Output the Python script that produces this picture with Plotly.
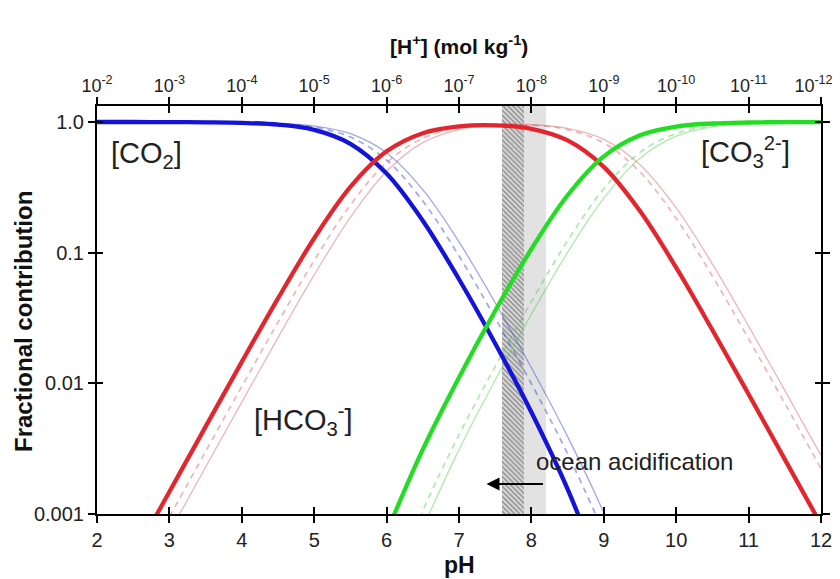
import math
import plotly.graph_objects as go

# ---------------- data ----------------
pH = [2.0, 2.5, 3.0, 3.5, 4.0, 4.5, 5.0, 5.5, 6.0, 6.5, 7.0,
      7.5, 8.0, 8.5, 9.0, 9.5, 10.0, 10.5, 11.0, 11.5, 12.0]

# bold curves
co2_bold = [1.0, 1.0, 0.9985, 0.9953, 0.9854, 0.9553, 0.8711, 0.6812, 0.4031, 0.1756, 0.0626,
            0.0202, 0.0060, 0.00155, 0.00031, None, None, None, None, None, None]
hco3_bold = [None, 0.00047, 0.00148, 0.00466, 0.0146, 0.0447, 0.1289, 0.3186, 0.5962, 0.8213, 0.9262,
             0.9439, 0.8873, 0.7234, 0.4539, 0.2082, 0.0768, 0.0256, 0.00825, 0.00262, 0.00083]
co3_bold = [None, None, None, None, None, None, None, None, 0.00072, 0.00312, 0.0111,
            0.0359, 0.1067, 0.2750, 0.5458, 0.7917, 0.9232, 0.9744, 0.9918, 0.9974, 0.9992]

# dashed (light) curves
co2_dash = [1.0, 1.0, 0.9990, 0.9970, 0.9905, 0.9707, 0.9128, 0.7680, 0.5114, 0.2485, 0.0944,
            0.0316, 0.00992, 0.00289, 0.00072, None, None, None, None, None, None]
hco3_dash = [None, None, 0.00095, 0.00301, 0.00946, 0.0293, 0.0872, 0.2319, 0.4884, 0.7505, 0.9016,
             0.9549, 0.9477, 0.8737, 0.6907, 0.4145, 0.1829, 0.0661, 0.0219, 0.00703, 0.00223]
co3_dash = [None, None, None, None, None, None, None, None, 0.00022, 0.00106, 0.00403,
            0.0135, 0.0423, 0.1234, 0.3085, 0.5854, 0.8171, 0.9339, 0.9781, 0.9930, 0.9978]

# thin (light) curves
co2_thin = [1.0, 1.0, 0.9993, 0.9977, 0.9928, 0.9776, 0.9325, 0.8136, 0.5798, 0.3036, 0.1209,
            0.0414, 0.01316, 0.00391, 0.00102, 0.00021, None, None, None, None, None]
hco3_thin = [None, None, 0.00072, 0.00229, 0.00719, 0.0224, 0.0676, 0.1864, 0.4200, 0.6956, 0.8760,
             0.9480, 0.9530, 0.8956, 0.7374, 0.4712, 0.2199, 0.0818, 0.0274, 0.00883, 0.00281]
co3_thin = [None, None, None, None, None, None, None, None, None, 0.00078, 0.00311,
            0.0106, 0.0338, 0.1005, 0.2616, 0.5286, 0.7801, 0.9182, 0.9726, 0.9912, 0.9972]

# pH bands
hatch_band = [7.6, 7.9]
grey_band = [7.9, 8.2]

# ticks
ph_ticks = [2, 3, 4, 5, 6, 7, 8, 9, 10, 11, 12]
h_ticktext = ["10<sup>-2</sup>", "10<sup>-3</sup>", "10<sup>-4</sup>", "10<sup>-5</sup>",
              "10<sup>-6</sup>", "10<sup>-7</sup>", "10<sup>-8</sup>", "10<sup>-9</sup>",
              "10<sup>-10</sup>", "10<sup>-11</sup>", "10<sup>-12</sup>"]
y_tickvals = [1.0, 0.1, 0.01, 0.001]
y_ticktext = ["1.0", "0.1", "0.01", "0.001"]

# ---------------- styling ----------------
FONT = "Arial, Liberation Sans, sans-serif"
Y_LOG_RANGE = [-3, 0.1226]
Y_TOP = 10 ** Y_LOG_RANGE[1]
Y_BOT = 10 ** Y_LOG_RANGE[0]

BLUE = "#1414d8"
RED = "#e3262e"
GREEN = "#22dd22"
BLUE_L = "rgba(70,80,215,0.5)"
RED_L = "rgba(215,80,85,0.42)"
GREEN_L = "rgba(60,205,60,0.42)"

# last top label is nudged left (trailing padding) so it stays inside the window
top_ticktext = h_ticktext[:-1] + [h_ticktext[-1] + "&nbsp;&nbsp;&nbsp;"]

fig = go.Figure()

# bands
fig.add_trace(go.Bar(
    x=[(grey_band[0] + grey_band[1]) / 2], width=[grey_band[1] - grey_band[0]],
    base=[Y_BOT], y=[Y_TOP - Y_BOT],
    marker=dict(color="#e2e2e2", line_width=0),
    hoverinfo="skip", showlegend=False))
fig.add_trace(go.Bar(
    x=[(hatch_band[0] + hatch_band[1]) / 2], width=[hatch_band[1] - hatch_band[0]],
    base=[Y_BOT], y=[Y_TOP - Y_BOT],
    marker=dict(color="#dcdcdc", line_width=0,
                pattern=dict(shape="\\", fgcolor="#444444", bgcolor="#dedede",
                             size=3.5, solidity=0.45)),
    hoverinfo="skip", showlegend=False))

def add_line(y, color, width, dash="solid"):
    fig.add_trace(go.Scatter(
        x=pH, y=y, mode="lines", connectgaps=False,
        line=dict(color=color, width=width, dash=dash, shape="spline", smoothing=1.0),
        hoverinfo="skip", showlegend=False))

# light curves first
for ys, c in [(co2_thin, BLUE_L), (hco3_thin, RED_L), (co3_thin, GREEN_L)]:
    add_line(ys, c, 1.3)
for ys, c in [(co2_dash, BLUE_L), (hco3_dash, RED_L), (co3_dash, GREEN_L)]:
    add_line(ys, c, 1.7, "6px,5px")
# bold curves
add_line(co2_bold, BLUE, 4.3)
add_line(hco3_bold, RED, 4.3)
add_line(co3_bold, GREEN, 4.3)

# invisible traces to activate overlay axes
fig.add_trace(go.Scatter(x=[2, 12], y=[0.001, 1], mode="none", xaxis="x2", yaxis="y",
                         hoverinfo="skip", showlegend=False))
fig.add_trace(go.Scatter(x=[2, 12], y=[0.001, 1], mode="none", xaxis="x3", yaxis="y2",
                         hoverinfo="skip", showlegend=False))

axis_common = dict(showgrid=False, zeroline=False, linecolor="black", linewidth=2,
                   tickcolor="black", tickwidth=1.5, automargin=False)

# the page body adds an 8px offset, so the figure is sized to the remaining window
fig.update_layout(
    width=832, height=571,
    margin=dict(l=89, r=19, t=98, b=65, autoexpand=False),
    paper_bgcolor="white", plot_bgcolor="white",
    barmode="overlay", bargap=0,
    font=dict(family=FONT, color="#222222", size=19),
    xaxis=dict(range=[2, 12], tickvals=ph_ticks, ticks="outside", ticklen=7,
               mirror=True, showline=True, ticklabeloverflow="allow",
               tickfont=dict(size=20, family=FONT, color="#222"), **axis_common),
    xaxis2=dict(range=[2, 12], overlaying="x", side="top", tickvals=ph_ticks,
                ticktext=top_ticktext, ticks="outside", ticklen=8, showline=False,
                ticklabelstandoff=-2, ticklabeloverflow="allow",
                tickfont=dict(size=18, family=FONT, color="#222"), **axis_common),
    xaxis3=dict(range=[2, 12], overlaying="x", side="bottom", tickvals=ph_ticks,
                ticks="inside", ticklen=7, mirror="ticks", showline=False,
                showticklabels=False, anchor="y", **axis_common),
    yaxis=dict(type="log", range=Y_LOG_RANGE, tickvals=y_tickvals, ticktext=y_ticktext,
               ticks="outside", ticklen=7, mirror="ticks", showline=True,
               tickfont=dict(size=20, family=FONT, color="#222"), **axis_common),
    yaxis2=dict(type="log", range=Y_LOG_RANGE, overlaying="y", tickvals=y_tickvals,
                ticks="inside", ticklen=6, mirror="ticks", showline=False,
                showticklabels=False, anchor="x", **axis_common),
)

ann = []
# axis titles
ann.append(dict(text="<b>Fractional contribution</b>", xref="paper", yref="paper",
                x=0, y=0.5, xanchor="center", yanchor="middle", xshift=-74, yshift=-12,
                textangle=-90, showarrow=False,
                font=dict(size=24, family=FONT, color="#111")))
ann.append(dict(text="<b>pH</b>", xref="paper", yref="paper", x=0.5, y=0,
                xanchor="center", yanchor="middle",
                yshift=-51, showarrow=False, font=dict(size=23, family=FONT, color="#111")))
ann.append(dict(text="<b>[H<sup>+</sup>] (mol kg<sup>-1</sup>)</b>", xref="paper", yref="paper",
                x=0.5, y=1, xanchor="center", yanchor="middle", yshift=61, showarrow=False,
                font=dict(size=21, family=FONT, color="#111")))
# species labels (y given in log10 units)
ann.append(dict(text="[CO<sub>2</sub>]", x=2.69, y=-0.25, xref="x", yref="y",
                showarrow=False, font=dict(size=29, family=FONT, color="#222")))
ann.append(dict(text="[HCO<sub>3</sub><sup>-</sup>]", x=4.85, y=-2.28, xref="x", yref="y",
                showarrow=False, font=dict(size=29, family=FONT, color="#222")))
ann.append(dict(text="[CO<sub>3</sub><sup>2-</sup>]", x=10.96, y=-0.23, xref="x", yref="y",
                showarrow=False, font=dict(size=29, family=FONT, color="#222")))
ann.append(dict(text="ocean acidification", x=9.42, y=-2.6, xref="x", yref="y",
                showarrow=False, font=dict(size=24, family=FONT, color="#222")))
# arrow
ann.append(dict(text="", x=7.38, y=-2.77, ax=8.18, ay=-2.77, xref="x", yref="y",
                axref="x", ayref="y", showarrow=True, arrowhead=2, arrowsize=1.3,
                arrowwidth=2, arrowcolor="black"))
fig.update_layout(annotations=ann)

fig.write_html("out.html")
